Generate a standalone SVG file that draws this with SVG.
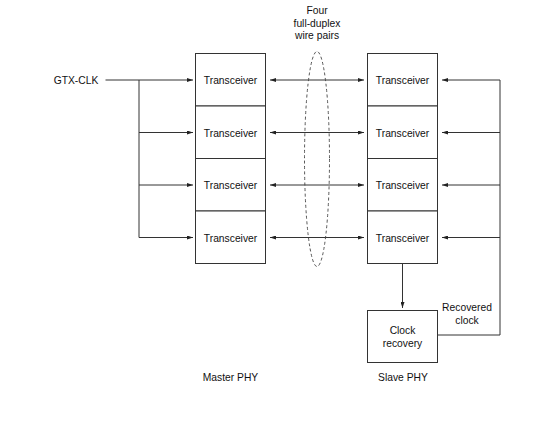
<svg xmlns="http://www.w3.org/2000/svg" width="552" height="424" viewBox="0 0 552 424">
<style>
text{font-family:"Liberation Sans",Arial,sans-serif;font-size:10.3px;fill:#111;text-anchor:middle}
.box{fill:#fff;stroke:#333;stroke-width:1}
.ln{fill:none;stroke:#333;stroke-width:1}
.arr{fill:none;stroke:#333;stroke-width:1;marker-end:url(#ah)}
.darr{fill:none;stroke:#333;stroke-width:1;marker-end:url(#ah);marker-start:url(#ahs)}
</style>
<defs>
<marker id="ah" viewBox="0 0 6 4" refX="6" refY="2" markerWidth="6" markerHeight="4" markerUnits="userSpaceOnUse" orient="auto"><path d="M0,0 L6,2 L0,4 z" fill="#222"/></marker>
<marker id="ahs" viewBox="0 0 6 4" refX="0" refY="2" markerWidth="6" markerHeight="4" markerUnits="userSpaceOnUse" orient="auto"><path d="M6,0 L0,2 L6,4 z" fill="#222"/></marker>
</defs>
<rect width="552" height="424" fill="#fff"/>
<g id="connectors">
<path class="ln" d="M105.5,80 H139 V237.5"/>
<path class="arr" d="M139,80 H193"/>
<path class="arr" d="M139,132.5 H193"/>
<path class="arr" d="M139,185 H193"/>
<path class="arr" d="M139,237.5 H193"/>
<path class="darr" d="M270,80 H364"/>
<path class="darr" d="M270,132.5 H364"/>
<path class="darr" d="M270,185 H364"/>
<path class="darr" d="M270,237.5 H364"/>
<path class="ln" d="M438,335 H500 V80"/>
<path class="arr" d="M500,80 H442"/>
<path class="arr" d="M500,132.5 H442"/>
<path class="arr" d="M500,185 H442"/>
<path class="arr" d="M500,237.5 H442"/>
<path class="arr" d="M402.5,264 V308"/>
<ellipse cx="317" cy="159" rx="12.5" ry="107.5" fill="none" stroke="#444" stroke-width="0.9" stroke-dasharray="3,2.5"/>
</g>
<g id="gtx"><text x="76" y="84">GTX-CLK</text></g>
<g id="wire-label"><text x="317" y="14">Four</text><text x="317" y="26.5">full-duplex</text><text x="317" y="39">wire pairs</text></g>
<g id="m1"><rect class="box" x="195.5" y="53.5" width="70" height="52.5"/><text x="230.5" y="84">Transceiver</text></g>
<g id="m2"><rect class="box" x="195.5" y="106" width="70" height="52.5"/><text x="230.5" y="136.5">Transceiver</text></g>
<g id="m3"><rect class="box" x="195.5" y="158.5" width="70" height="52.5"/><text x="230.5" y="189">Transceiver</text></g>
<g id="m4"><rect class="box" x="195.5" y="211" width="70" height="52.5"/><text x="230.5" y="241.5">Transceiver</text></g>
<g id="s1"><rect class="box" x="367.5" y="53.5" width="70" height="52.5"/><text x="402.5" y="84">Transceiver</text></g>
<g id="s2"><rect class="box" x="367.5" y="106" width="70" height="52.5"/><text x="402.5" y="136.5">Transceiver</text></g>
<g id="s3"><rect class="box" x="367.5" y="158.5" width="70" height="52.5"/><text x="402.5" y="189">Transceiver</text></g>
<g id="s4"><rect class="box" x="367.5" y="211" width="70" height="52.5"/><text x="402.5" y="241.5">Transceiver</text></g>
<g id="clock-recovery"><rect class="box" x="367.5" y="310.5" width="70" height="52"/><text x="402.5" y="334">Clock</text><text x="402.5" y="347">recovery</text></g>
<g id="recovered-label"><text x="467" y="311">Recovered</text><text x="467" y="324">clock</text></g>
<g id="master-label"><text x="230.5" y="381">Master PHY</text></g>
<g id="slave-label"><text x="403" y="381">Slave PHY</text></g>
</svg>
